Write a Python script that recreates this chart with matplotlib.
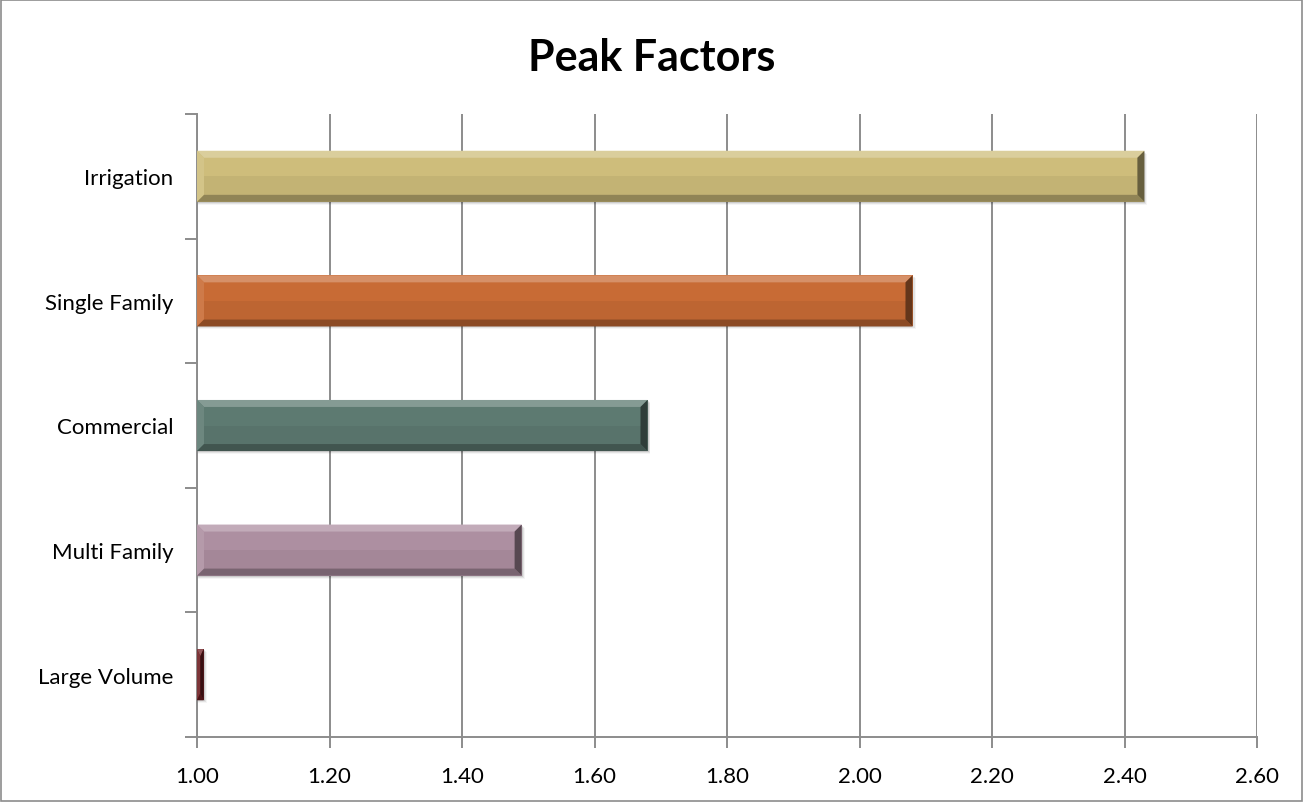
import matplotlib
matplotlib.use("Agg")
import matplotlib.pyplot as plt
from matplotlib.patches import Polygon, Rectangle
import matplotlib.colors as mcolors
import numpy as np

categories = ["Large Volume", "Multi Family", "Commercial", "Single Family", "Irrigation"]
values = [1.01, 1.49, 1.68, 2.08, 2.43]
colors = ["#6e1e22", "#ad8fa1", "#5d7a71", "#c86b35", "#cebd7b"]
xticks = [1.00, 1.20, 1.40, 1.60, 1.80, 2.00, 2.20, 2.40, 2.60]

plt.rcParams["font.family"] = ["Lato", "DejaVu Sans"]

W, H = 1303, 803
fig = plt.figure(figsize=(W / 100, H / 100), dpi=100)
fig.patches.append(Rectangle((0.0008, 0.001), 0.9984, 0.998, transform=fig.transFigure,
                             fill=False, edgecolor="#8c8c8c", linewidth=1.2))

ax_l, ax_r, ax_t, ax_b = 197, 1257, 115, 738
ax = fig.add_axes([ax_l / W, 1 - ax_b / H, (ax_r - ax_l) / W, (ax_b - ax_t) / H])
ax.set_xlim(1.0, 2.6)
ax.set_ylim(-0.5, len(categories) - 0.5)

xpp = 1.6 / (ax_r - ax_l)
ypp = len(categories) / (ax_b - ax_t)

bar_h = 0.41
bev = 7  # bevel size in pixels


def shade(c, f):
    r = np.array(mcolors.to_rgb(c))
    if f > 0:
        r = r + (1 - r) * f
    else:
        r = r * (1 + f)
    return np.clip(r, 0, 1)


for i, (v, c) in enumerate(zip(values, colors)):
    x0, x1 = 1.0, v
    y0, y1 = i - bar_h / 2, i + bar_h / 2
    # soft shadow
    for k, a in enumerate([0.10, 0.07, 0.04]):
        d = (k + 1)
        ax.add_patch(Rectangle((x0, y0 - d * ypp), (x1 - x0) + d * xpp, (y1 - y0),
                               facecolor="black", alpha=a, linewidth=0, zorder=2))
    ax.add_patch(Rectangle((x0, y0), x1 - x0, y1 - y0, facecolor=c, linewidth=0, zorder=3))
    bx = min(bev * xpp, (x1 - x0) / 2)
    by = bev * ypp
    ix0, ix1, iy0, iy1 = x0 + bx, x1 - bx, y0 + by, y1 - by
    # top bevel (light)
    ax.add_patch(Polygon([(x0, y1), (x1, y1), (ix1, iy1), (ix0, iy1)],
                         facecolor=shade(c, 0.25), linewidth=0, zorder=4))
    # left bevel
    ax.add_patch(Polygon([(x0, y0), (x0, y1), (ix0, iy1), (ix0, iy0)],
                         facecolor=shade(c, 0.10), linewidth=0, zorder=4))
    # bottom bevel (dark)
    ax.add_patch(Polygon([(x0, y0), (x1, y0), (ix1, iy0), (ix0, iy0)],
                         facecolor=shade(c, -0.30), linewidth=0, zorder=4))
    # right bevel (darkest)
    ax.add_patch(Polygon([(x1, y0), (x1, y1), (ix1, iy1), (ix1, iy0)],
                         facecolor=shade(c, -0.5), linewidth=0, zorder=4))
    # subtle gradient on the face
    ax.add_patch(Rectangle((ix0, iy0), max(ix1 - ix0, 0), (iy1 - iy0) / 2,
                           facecolor="black", alpha=0.05, linewidth=0, zorder=5))

ax.set_xticks(xticks)
ax.set_xticklabels([f"{t:.2f}" for t in xticks], fontsize=16, color="black")
ax.set_yticks(range(len(categories)))
ax.set_yticklabels(categories, fontsize=16, color="black")
ax.set_yticks(np.arange(-0.5, len(categories), 1.0), minor=True)

ax.grid(axis="x", color="#8c8c8c", linewidth=1.4, zorder=0)
ax.set_axisbelow(True)
for s in ["top", "right"]:
    ax.spines[s].set_visible(False)
for s in ["left", "bottom"]:
    ax.spines[s].set_color("#8c8c8c")
    ax.spines[s].set_linewidth(1.4)
ax.tick_params(axis="y", which="major", length=0, pad=17)
ax.tick_params(axis="y", which="minor", length=9, width=1.4, color="#8c8c8c")
ax.tick_params(axis="x", length=8, width=1.4, color="#8c8c8c", pad=13)

fig.text(0.5, 1 - 58 / H, "Peak Factors", ha="center", va="center",
         fontsize=31, fontweight="bold")

fig.savefig("out.png", dpi=100)
